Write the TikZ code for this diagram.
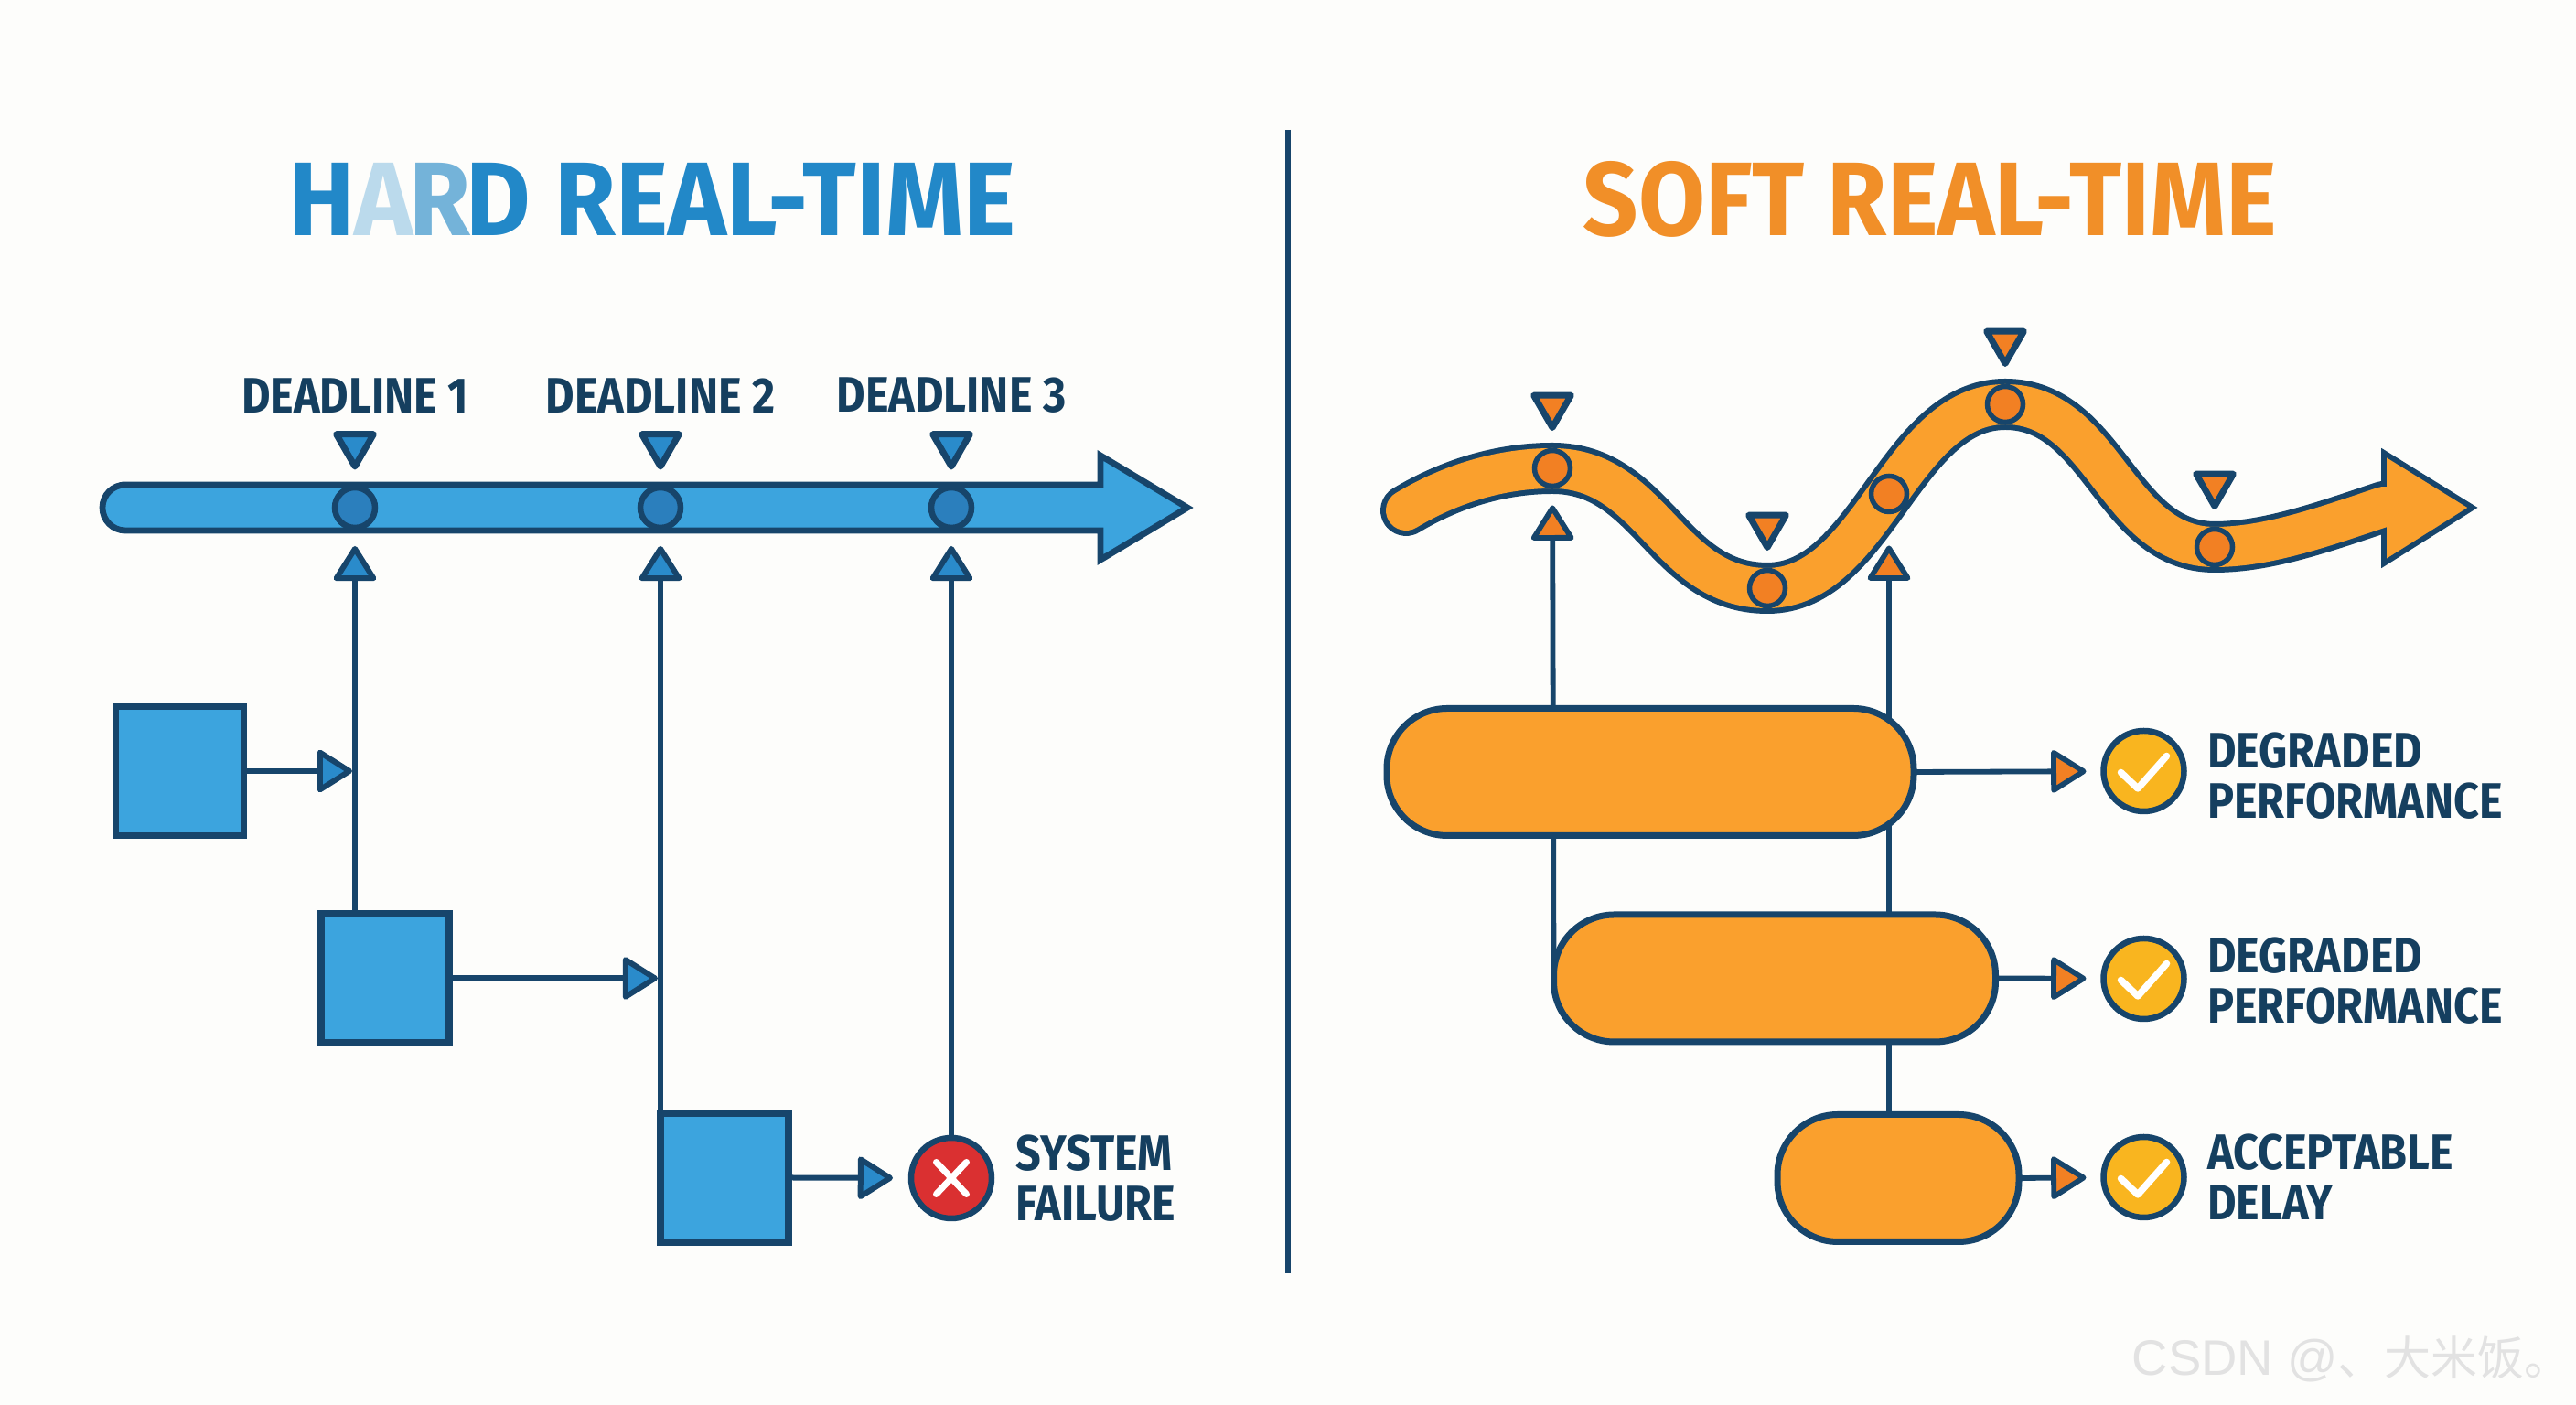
\documentclass[tikz,border=0pt]{standalone}
\usepackage{fontspec}
\usepackage{xcolor}
\usetikzlibrary{arrows.meta,positioning,shapes.geometric,backgrounds}
\setmainfont{Fira Sans}[FakeStretch=0.89]
\newfontfamily\titlefont{Fira Sans}[FakeStretch=0.95]
\newfontfamily\softfont{Fira Sans}[FakeStretch=0.925]
\newfontfamily\markfont{Liberation Sans}
\newfontfamily\cjkfont{Noto Sans CJK SC}
\definecolor{Page}{HTML}{FDFDFB}
\definecolor{Ink}{HTML}{17456B}
\definecolor{InkText}{HTML}{153F5F}
\definecolor{TitleBlue}{HTML}{2288C8}
\definecolor{FadeA}{HTML}{BBDAEC}
\definecolor{FadeR}{HTML}{74B3D9}
\definecolor{BarBlue}{HTML}{3CA4DE}
\definecolor{DotBlue}{HTML}{2B7FBD}
\definecolor{TipBlue}{HTML}{2A8BCB}
\definecolor{TitleOrange}{HTML}{F18F28}
\definecolor{BodyOrange}{HTML}{FAA02D}
\definecolor{DotOrange}{HTML}{F28023}
\definecolor{CheckYellow}{HTML}{F9B51F}
\definecolor{FailRed}{HTML}{DA3031}
\definecolor{Mark}{HTML}{E2E2E2}

\begin{document}
\begin{tikzpicture}
\tikzset{
  titletext/.style={font=\bfseries\fontsize{32.5}{36}\selectfont,inner sep=0pt},
  labeltext/.style={font=\bfseries\fontsize{15.5}{15.65}\selectfont,text=InkText,inner sep=0pt,align=left},
  dot/.style={circle,draw=Ink,line width=.65mm,outer sep=0pt,inner sep=0pt},
  bluedot/.style={dot,fill=DotBlue,minimum size=4.4mm},
  orangedot/.style={dot,fill=DotOrange,minimum size=3.9mm,line width=.55mm},
  downmark/.style={regular polygon,regular polygon sides=3,shape border rotate=180,minimum size=4.7mm,inner sep=0pt,outer sep=0pt,draw=Ink,line width=.7mm,line join=round},
  squarebox/.style={rectangle,draw=Ink,line width=.72mm,fill=BarBlue,minimum width=14mm,minimum height=14.1mm,outer sep=0pt},
  pillbox/.style={rectangle,rounded corners=6.6mm,draw=Ink,line width=.7mm,fill=BodyOrange,minimum height=13.9mm,outer sep=0pt},
  statedot/.style={dot,minimum size=8.8mm},
  tick/.style={draw=white,line width=.75mm,line cap=round,line join=round},
  bluearrow/.style={draw=Ink,line width=.6mm,-{Triangle[round,length=4.1mm,width=5mm,fill=TipBlue]}},
  orangearrow/.style={draw=Ink,line width=.58mm,-{Triangle[round,length=4.1mm,width=5mm,fill=DotOrange]}}
}
\useasboundingbox (0,0) rectangle (28.16,15.36);
\begin{scope}[on background layer]
\fill[Page] (0,0) rectangle (28.16,15.36);
\end{scope}

% titles and separator
\node[titletext,text=TitleBlue] (hard) at (7.13,13.18) {\titlefont H{\color{FadeA}A}\kern-.04em{\color{FadeR}R}\kern-.04em D REAL-TIME};
\node[titletext,text=TitleOrange] (soft) at (21.10,13.18) {\softfont SOFT REAL-TIME};
\coordinate (septop) at (14.08,13.94);
\coordinate (sepbot) at (14.08,1.44);
\draw[Ink,line width=.55mm] (septop) -- (sepbot);

% hard side
\draw[Ink,line width=.68mm,fill=BarBlue] (1.37,10.06) -- (12.03,10.06) -- (12.03,10.38) -- (12.98,9.81) -- (12.03,9.24) -- (12.03,9.56) -- (1.37,9.56) arc[start angle=270,end angle=90,radius=.25] -- cycle;
\node[bluedot] (d1) at (3.88,9.81) {};
\node[bluedot] (d2) at (7.22,9.81) {};
\node[bluedot] (d3) at (10.40,9.81) {};
\node[downmark,fill=TipBlue,above=2.3mm of d1] (m1) {};
\node[downmark,fill=TipBlue,above=2.3mm of d2] (m2) {};
\node[downmark,fill=TipBlue,above=2.3mm of d3] (m3) {};
\node[labeltext,above=2.3mm of m1] (l1) {DEADLINE 1};
\node[labeltext,above=2.3mm of m2] (l2) {DEADLINE 2};
\node[labeltext,above=2.3mm of m3] (l3) {DEADLINE 3};
\node[squarebox] (b1) at (1.965,6.93) {};
\node[squarebox] (b2) at (4.21,4.665) {};
\node[squarebox] (b3) at (7.92,2.485) {};
\node[statedot,fill=FailRed] (fail) at (10.40,2.48) {};
\draw[draw=white,line width=.7mm,line cap=round] (fail.center) ++(-.165,-.175) -- ++(.33,.35);
\draw[draw=white,line width=.7mm,line cap=round] (fail.center) ++(-.165,.175) -- ++(.33,-.35);
\node[labeltext,right=2.6mm of fail] (failtext) {SYSTEM\\FAILURE};
\draw[bluearrow,shorten >=2mm] (b2.north -| d1) -- (d1);
\draw[bluearrow,shorten >=2mm] (b3.north -| d2) -- (d2);
\draw[bluearrow,shorten >=2mm] (fail) -- (d3);
\draw[bluearrow,shorten >=.3mm] (b1.east) -- (b1.east -| d1);
\draw[bluearrow,shorten >=.3mm] (b2.east) -- (b2.east -| d2);
\draw[bluearrow,shorten >=2mm] (b3.east) -- (fail);

% soft side
\coordinate (w0) at (15.37,9.78);
\coordinate (w1) at (16.97,10.24);
\coordinate (w2) at (19.32,8.93);
\coordinate (w3) at (20.65,9.96);
\coordinate (w4) at (21.92,10.94);
\coordinate (w5) at (24.21,9.38);
\coordinate (w6) at (26.06,9.82);
\newcommand{\wavepath}{(w0) .. controls +(.50,.30) and +(-.55,0) .. (w1) .. controls +(1.10,0) and +(-1.10,0) .. (w2) .. controls +(1.15,0) and +(-1.15,0) .. (w4) .. controls +(1.08,0) and +(-1.08,0) .. (w5) .. controls +(.59,0) and +(-.63,-.21) .. (w6)}
\draw[Ink,line width=5.6mm,line cap=round] \wavepath;
\draw[Ink,line width=.58mm,fill=BodyOrange] (26.06,10.41) -- (27.03,9.81) -- (26.06,9.20) -- cycle;
\draw[BodyOrange,line width=4.4mm,line cap=round] \wavepath;
\node[orangedot] (s1) at (w1) {};
\node[orangedot] (s2) at (w2) {};
\node[orangedot] (s3) at (w3) {};
\node[orangedot] (s4) at (w4) {};
\node[orangedot] (s5) at (w5) {};
\node[downmark,fill=DotOrange,above=2.5mm of s1] (n1) {};
\node[downmark,fill=DotOrange,above=2.5mm of s2] (n2) {};
\node[downmark,fill=DotOrange,above=2.5mm of s4] (n4) {};
\node[downmark,fill=DotOrange,above=2.5mm of s5] (n5) {};
\node[pillbox,minimum width=57.6mm] (p1) at (18.04,6.92) {};
\node[pillbox,minimum width=48.3mm] (p2) at (19.40,4.665) {};
\node[pillbox,minimum width=26.4mm] (p3) at (20.75,2.48) {};
\node[statedot,fill=CheckYellow] (c1) at (23.435,6.93) {};
\node[statedot,fill=CheckYellow] (c2) at (23.435,4.66) {};
\node[statedot,fill=CheckYellow] (c3) at (23.435,2.49) {};
\draw[tick] (c1.center) ++(-.25,-.015) -- ++(.185,-.175) -- ++(.315,.355);
\draw[tick] (c2.center) ++(-.25,-.015) -- ++(.185,-.175) -- ++(.315,.355);
\draw[tick] (c3.center) ++(-.25,-.015) -- ++(.185,-.175) -- ++(.315,.355);
\node[labeltext,right=2.5mm of c1,yshift=-.5mm] (t1) {DEGRADED\\PERFORMANCE};
\node[labeltext,right=2.5mm of c2,yshift=-.2mm] (t2) {DEGRADED\\PERFORMANCE};
\node[labeltext,right=2.5mm of c3] (t3) {ACCEPTABLE\\DELAY};
\begin{scope}[on background layer]
\draw[orangearrow,shorten >=2.1mm] (p2.west) -- (s1);
\draw[orangearrow,shorten >=3.7mm] (p3.north -| s3) -- (s3);
\end{scope}
\draw[orangearrow,shorten >=1.9mm] (p1.east) -- (c1);
\draw[orangearrow,shorten >=1.9mm] (p2.east) -- (c2);
\draw[orangearrow,shorten >=1.9mm] (p3.east) -- (c3);

\node[font=\markfont\fontsize{15.5}{18}\selectfont,text=Mark,anchor=west,inner sep=0pt] (mark) at (23.30,.50) {CSDN @{\cjkfont\fontsize{14.5}{18}\selectfont 、大米饭。}};
\end{tikzpicture}
\end{document}
